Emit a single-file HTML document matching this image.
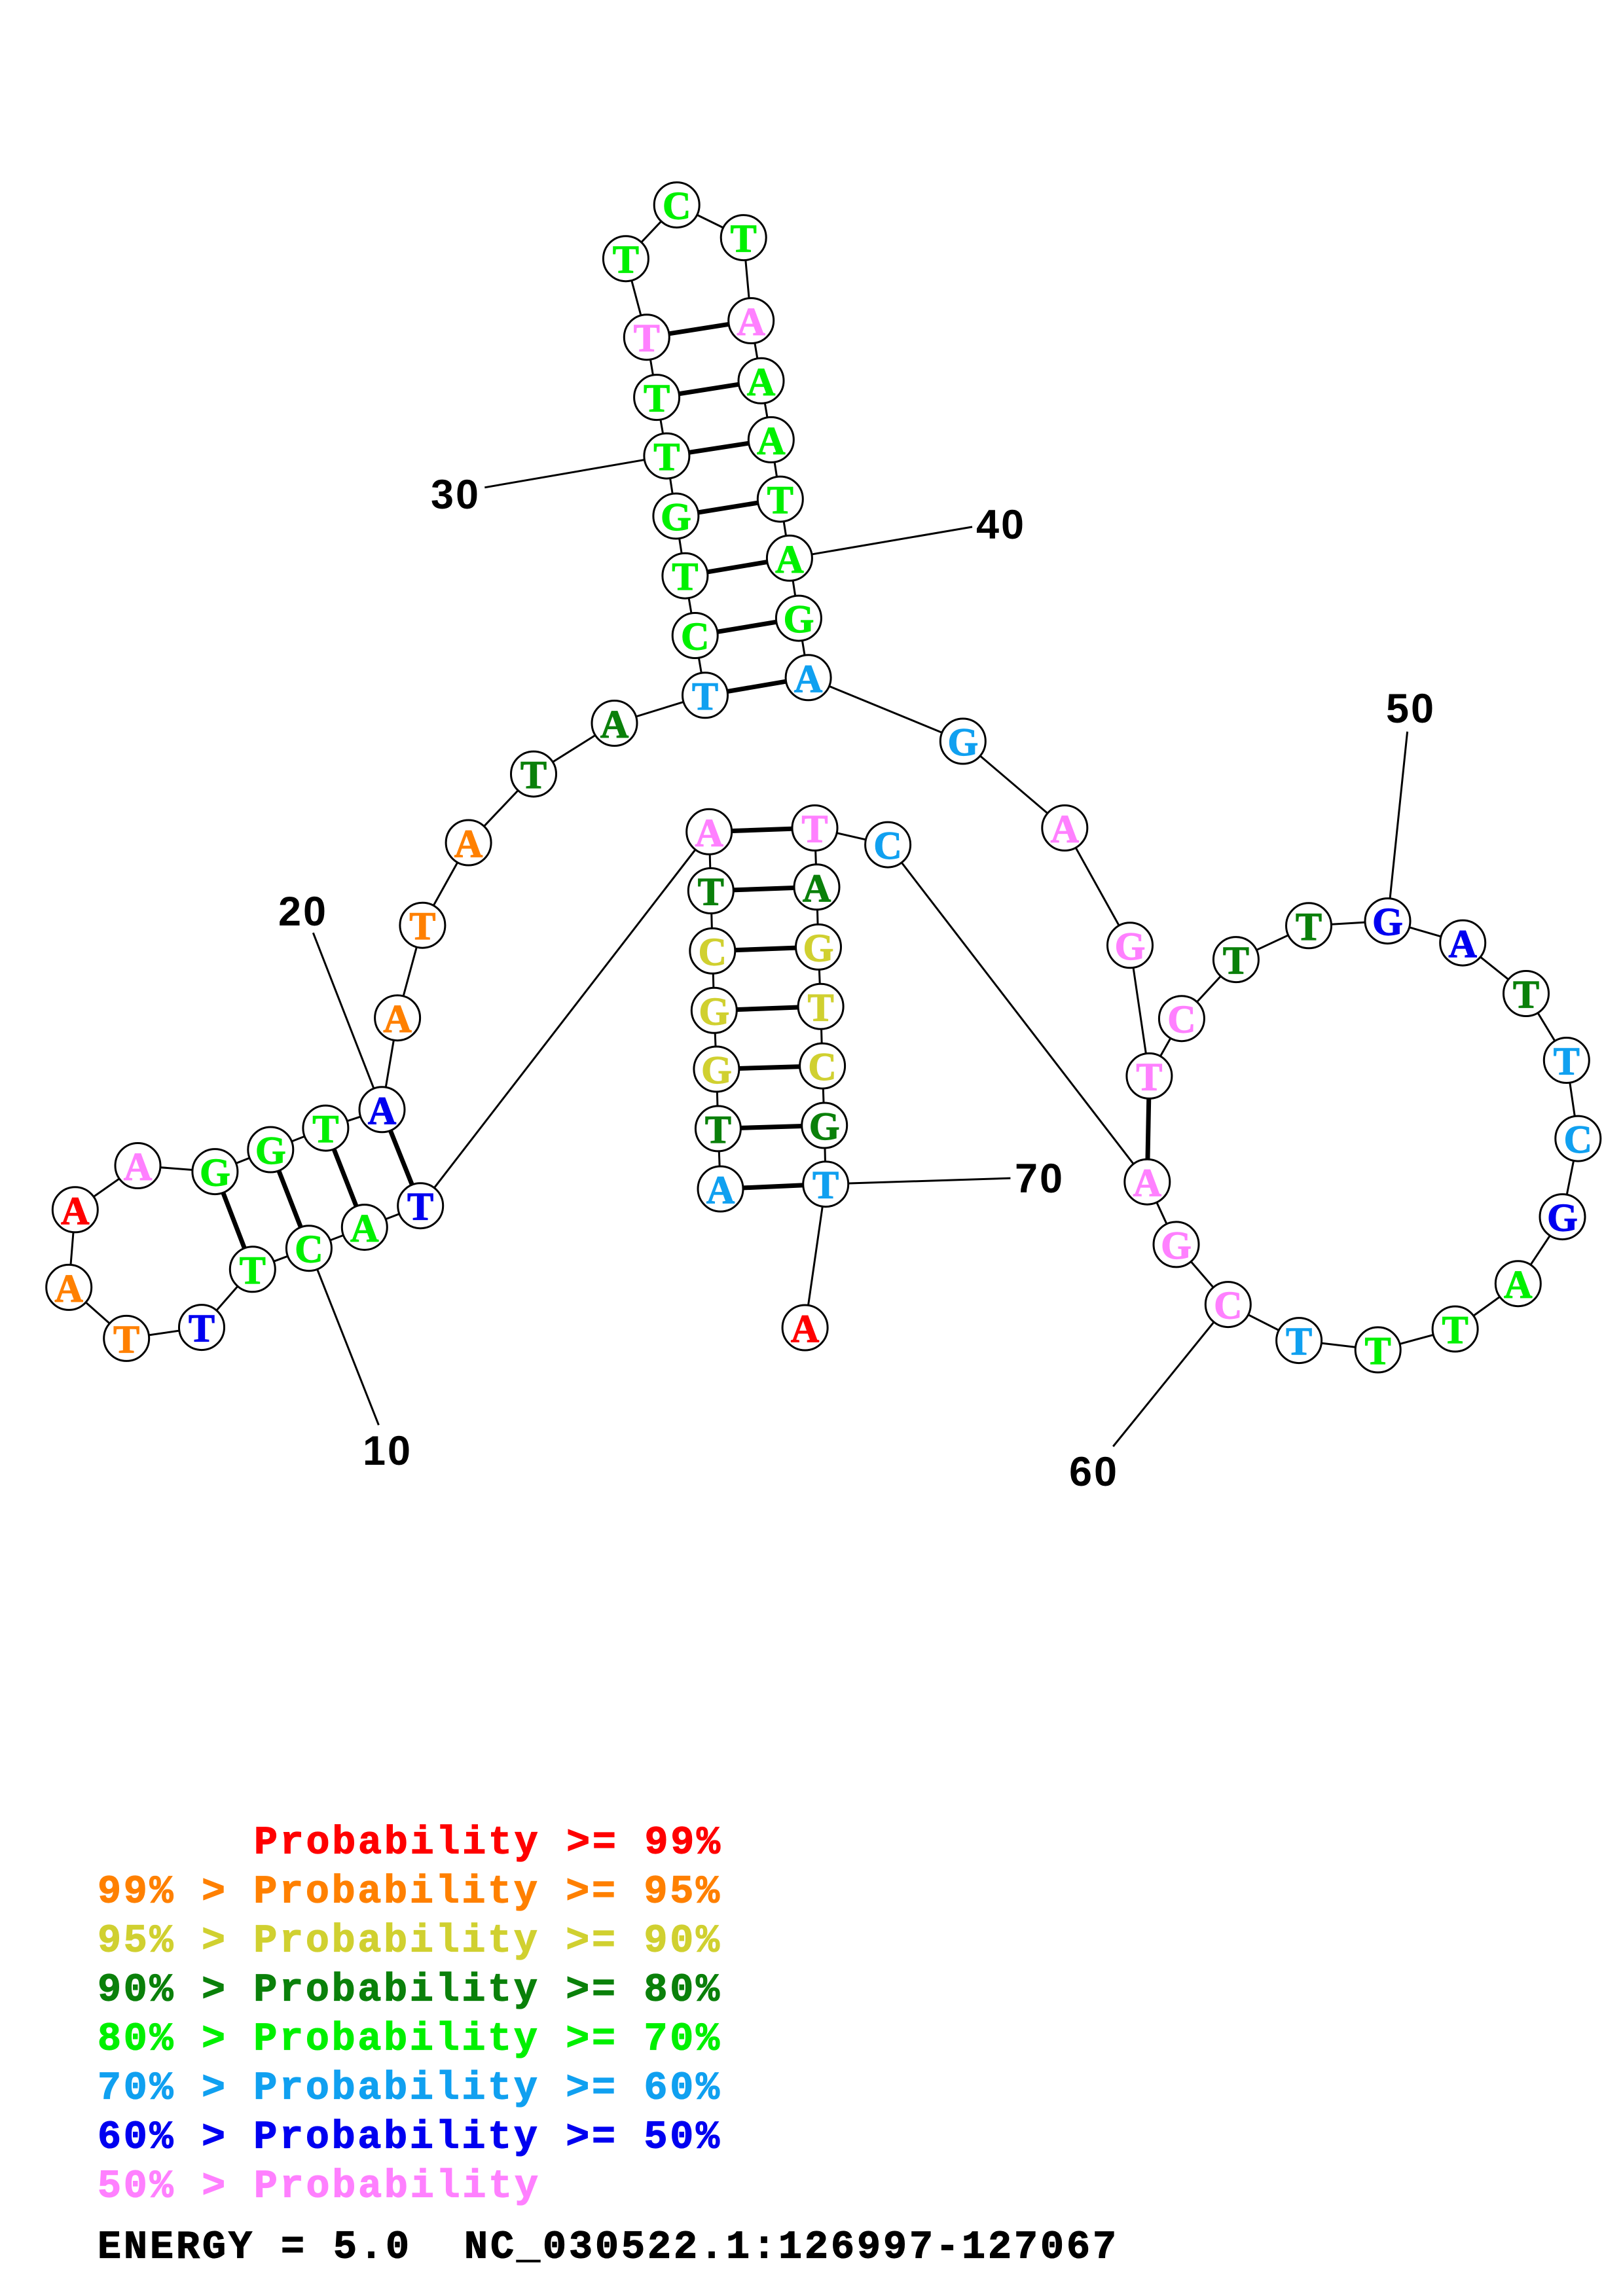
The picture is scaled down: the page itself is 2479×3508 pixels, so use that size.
<!DOCTYPE html>
<html>
<head>
<meta charset="utf-8">
<style>
html,body{margin:0;padding:0;background:#fff;}
svg{display:block;}
.n{font-family:"Liberation Serif",serif;font-weight:bold;font-size:60px;text-anchor:middle;stroke-width:1.2px;}
.lbl{font-family:"Liberation Sans",sans-serif;font-weight:bold;font-size:63px;text-anchor:middle;fill:#000;letter-spacing:3px;}
.lg{font-family:"Liberation Mono",monospace;font-weight:bold;font-size:60px;white-space:pre;stroke-width:1.2px;}
.p{fill:#ff80ff;stroke:#ff80ff}.lb{fill:#10a0f0;stroke:#10a0f0}.dg{fill:#0a800a;stroke:#0a800a}.g{fill:#00f000;stroke:#00f000}.y{fill:#d0d030;stroke:#d0d030}.o{fill:#ff8000;stroke:#ff8000}.r{fill:#ff0000;stroke:#ff0000}.b{fill:#0000f0;stroke:#0000f0}.k{fill:#000;stroke:#000}
</style>
</head>
<body>
<svg width="2479" height="3508" viewBox="0 0 2479 3508" xmlns="http://www.w3.org/2000/svg">
<rect width="2479" height="3508" fill="#fff"/>
<!-- backbone -->
<polyline fill="none" stroke="#000" stroke-width="3" stroke-linejoin="round" points="1100.5,1816.5 1096.9,1724.4 1094.4,1633.5 1090.8,1543.8 1088.3,1452.9 1085.8,1361 1083.2,1270.8 642.2,1842.2 556.8,1875.1 471.9,1907.2 385.8,1939.3 308,2028.1 193.2,2044.9 105.2,1966.9 114.8,1848.3 210.5,1781 328.4,1790.1 413.3,1756.5 497.4,1723.6 583.5,1695.3 607.1,1555.2 645.4,1413.7 715.6,1287.5 815,1182.6 938.5,1105 1077,1062.3 1061.7,971 1046.4,879.7 1032.4,788.5 1018.4,696.6 1003.1,607.1 987.8,515.2 955.9,395.2 1033.7,313.1 1135.7,363.1 1147.2,490 1162.5,581.8 1177.8,671.9 1191.8,762.6 1205.9,852.8 1219.9,944.6 1234.6,1035.3 1470.8,1132.5 1626.3,1265 1726,1444.3 1755.4,1643.9 1804.9,1556.2 1887.9,1466.1 1999,1414.3 2119.5,1407.1 2234.2,1440.6 2331,1518 2392.8,1620 2410.3,1739.6 2386.5,1859.1 2318.8,1961.2 2222.6,2030.5 2104.7,2062.4 1984.1,2048.1 1875.8,1993.1 1796.5,1901.4 1752.3,1805.7 1356.1,1290.6 1244.5,1265 1247.5,1355.3 1250,1446.9 1253.6,1537.8 1256.1,1628.6 1259.2,1719.5 1261.2,1809.2 1229.6,2028.5"/>
<!-- base pair bonds -->
<g stroke="#000" stroke-width="7">
<line x1="1100.5" y1="1816.5" x2="1261.2" y2="1809.2"/>
<line x1="1096.9" y1="1724.4" x2="1259.2" y2="1719.5"/>
<line x1="1094.4" y1="1633.5" x2="1256.1" y2="1628.6"/>
<line x1="1090.8" y1="1543.8" x2="1253.6" y2="1537.8"/>
<line x1="1088.3" y1="1452.9" x2="1250" y2="1446.9"/>
<line x1="1085.8" y1="1361" x2="1247.5" y2="1355.3"/>
<line x1="1083.2" y1="1270.8" x2="1244.5" y2="1265"/>
<line x1="642.2" y1="1842.2" x2="583.5" y2="1695.3"/>
<line x1="556.8" y1="1875.1" x2="497.4" y2="1723.6"/>
<line x1="471.9" y1="1907.2" x2="413.3" y2="1756.5"/>
<line x1="385.8" y1="1939.3" x2="328.4" y2="1790.1"/>
<line x1="1077" y1="1062.3" x2="1234.6" y2="1035.3"/>
<line x1="1061.7" y1="971" x2="1219.9" y2="944.6"/>
<line x1="1046.4" y1="879.7" x2="1205.9" y2="852.8"/>
<line x1="1032.4" y1="788.5" x2="1191.8" y2="762.6"/>
<line x1="1018.4" y1="696.6" x2="1177.8" y2="671.9"/>
<line x1="1003.1" y1="607.1" x2="1162.5" y2="581.8"/>
<line x1="987.8" y1="515.2" x2="1147.2" y2="490"/>
<line x1="1755.4" y1="1643.9" x2="1752.3" y2="1805.7"/>
</g>
<!-- label ticks -->
<g stroke="#000" stroke-width="3">
<line x1="471.9" y1="1907.2" x2="578.4" y2="2177.3"/>
<line x1="583.5" y1="1695.3" x2="478.3" y2="1425.2"/>
<line x1="1018.4" y1="696.6" x2="740.3" y2="744.8"/>
<line x1="1205.9" y1="852.8" x2="1485" y2="805"/>
<line x1="2119.5" y1="1407.1" x2="2149.6" y2="1117.8"/>
<line x1="1875.8" y1="1993.1" x2="1700.2" y2="2210"/>
<line x1="1261.2" y1="1809.2" x2="1543.4" y2="1800.1"/>
</g>
<!-- nodes -->
<g fill="#fff" stroke="#000" stroke-width="3">
<circle cx="1100.5" cy="1816.5" r="34.5"/>
<circle cx="1096.9" cy="1724.4" r="34.5"/>
<circle cx="1094.4" cy="1633.5" r="34.5"/>
<circle cx="1090.8" cy="1543.8" r="34.5"/>
<circle cx="1088.3" cy="1452.9" r="34.5"/>
<circle cx="1085.8" cy="1361" r="34.5"/>
<circle cx="1083.2" cy="1270.8" r="34.5"/>
<circle cx="642.2" cy="1842.2" r="34.5"/>
<circle cx="556.8" cy="1875.1" r="34.5"/>
<circle cx="471.9" cy="1907.2" r="34.5"/>
<circle cx="385.8" cy="1939.3" r="34.5"/>
<circle cx="308" cy="2028.1" r="34.5"/>
<circle cx="193.2" cy="2044.9" r="34.5"/>
<circle cx="105.2" cy="1966.9" r="34.5"/>
<circle cx="114.8" cy="1848.3" r="34.5"/>
<circle cx="210.5" cy="1781" r="34.5"/>
<circle cx="328.4" cy="1790.1" r="34.5"/>
<circle cx="413.3" cy="1756.5" r="34.5"/>
<circle cx="497.4" cy="1723.6" r="34.5"/>
<circle cx="583.5" cy="1695.3" r="34.5"/>
<circle cx="607.1" cy="1555.2" r="34.5"/>
<circle cx="645.4" cy="1413.7" r="34.5"/>
<circle cx="715.6" cy="1287.5" r="34.5"/>
<circle cx="815" cy="1182.6" r="34.5"/>
<circle cx="938.5" cy="1105" r="34.5"/>
<circle cx="1077" cy="1062.3" r="34.5"/>
<circle cx="1061.7" cy="971" r="34.5"/>
<circle cx="1046.4" cy="879.7" r="34.5"/>
<circle cx="1032.4" cy="788.5" r="34.5"/>
<circle cx="1018.4" cy="696.6" r="34.5"/>
<circle cx="1003.1" cy="607.1" r="34.5"/>
<circle cx="987.8" cy="515.2" r="34.5"/>
<circle cx="955.9" cy="395.2" r="34.5"/>
<circle cx="1033.7" cy="313.1" r="34.5"/>
<circle cx="1135.7" cy="363.1" r="34.5"/>
<circle cx="1147.2" cy="490" r="34.5"/>
<circle cx="1162.5" cy="581.8" r="34.5"/>
<circle cx="1177.8" cy="671.9" r="34.5"/>
<circle cx="1191.8" cy="762.6" r="34.5"/>
<circle cx="1205.9" cy="852.8" r="34.5"/>
<circle cx="1219.9" cy="944.6" r="34.5"/>
<circle cx="1234.6" cy="1035.3" r="34.5"/>
<circle cx="1470.8" cy="1132.5" r="34.5"/>
<circle cx="1626.3" cy="1265" r="34.5"/>
<circle cx="1726" cy="1444.3" r="34.5"/>
<circle cx="1755.4" cy="1643.9" r="34.5"/>
<circle cx="1804.9" cy="1556.2" r="34.5"/>
<circle cx="1887.9" cy="1466.1" r="34.5"/>
<circle cx="1999" cy="1414.3" r="34.5"/>
<circle cx="2119.5" cy="1407.1" r="34.5"/>
<circle cx="2234.2" cy="1440.6" r="34.5"/>
<circle cx="2331" cy="1518" r="34.5"/>
<circle cx="2392.8" cy="1620" r="34.5"/>
<circle cx="2410.3" cy="1739.6" r="34.5"/>
<circle cx="2386.5" cy="1859.1" r="34.5"/>
<circle cx="2318.8" cy="1961.2" r="34.5"/>
<circle cx="2222.6" cy="2030.5" r="34.5"/>
<circle cx="2104.7" cy="2062.4" r="34.5"/>
<circle cx="1984.1" cy="2048.1" r="34.5"/>
<circle cx="1875.8" cy="1993.1" r="34.5"/>
<circle cx="1796.5" cy="1901.4" r="34.5"/>
<circle cx="1752.3" cy="1805.7" r="34.5"/>
<circle cx="1356.1" cy="1290.6" r="34.5"/>
<circle cx="1244.5" cy="1265" r="34.5"/>
<circle cx="1247.5" cy="1355.3" r="34.5"/>
<circle cx="1250" cy="1446.9" r="34.5"/>
<circle cx="1253.6" cy="1537.8" r="34.5"/>
<circle cx="1256.1" cy="1628.6" r="34.5"/>
<circle cx="1259.2" cy="1719.5" r="34.5"/>
<circle cx="1261.2" cy="1809.2" r="34.5"/>
<circle cx="1229.6" cy="2028.5" r="34.5"/>
</g>
<!-- letters -->
<g class="n">
<text x="1100.5" y="1838" class="lb">A</text>
<text x="1096.9" y="1746" class="dg">T</text>
<text x="1094.4" y="1655" class="y">G</text>
<text x="1090.8" y="1565.3" class="y">G</text>
<text x="1088.3" y="1474.4" class="y">C</text>
<text x="1085.8" y="1382.5" class="dg">T</text>
<text x="1083.2" y="1292.3" class="p">A</text>
<text x="642.2" y="1863.7" class="b">T</text>
<text x="556.8" y="1896.6" class="g">A</text>
<text x="471.9" y="1928.7" class="g">C</text>
<text x="385.8" y="1960.8" class="g">T</text>
<text x="308" y="2049.6" class="b">T</text>
<text x="193.2" y="2066.4" class="o">T</text>
<text x="105.2" y="1988.4" class="o">A</text>
<text x="114.8" y="1869.8" class="r">A</text>
<text x="210.5" y="1802.5" class="p">A</text>
<text x="328.4" y="1811.6" class="g">G</text>
<text x="413.3" y="1778" class="g">G</text>
<text x="497.4" y="1745.1" class="g">T</text>
<text x="583.5" y="1716.8" class="b">A</text>
<text x="607.1" y="1576.7" class="o">A</text>
<text x="645.4" y="1435.2" class="o">T</text>
<text x="715.6" y="1309" class="o">A</text>
<text x="815" y="1204.1" class="dg">T</text>
<text x="938.5" y="1126.5" class="dg">A</text>
<text x="1077" y="1083.8" class="lb">T</text>
<text x="1061.7" y="992.5" class="g">C</text>
<text x="1046.4" y="901.2" class="g">T</text>
<text x="1032.4" y="810" class="g">G</text>
<text x="1018.4" y="718.1" class="g">T</text>
<text x="1003.1" y="628.6" class="g">T</text>
<text x="987.8" y="536.7" class="p">T</text>
<text x="955.9" y="416.7" class="g">T</text>
<text x="1033.7" y="334.6" class="g">C</text>
<text x="1135.7" y="384.6" class="g">T</text>
<text x="1147.2" y="511.5" class="p">A</text>
<text x="1162.5" y="603.3" class="g">A</text>
<text x="1177.8" y="693.4" class="g">A</text>
<text x="1191.8" y="784.1" class="g">T</text>
<text x="1205.9" y="874.3" class="g">A</text>
<text x="1219.9" y="966.1" class="g">G</text>
<text x="1234.6" y="1056.8" class="lb">A</text>
<text x="1470.8" y="1154" class="lb">G</text>
<text x="1626.3" y="1286.5" class="p">A</text>
<text x="1726" y="1465.8" class="p">G</text>
<text x="1755.4" y="1665.4" class="p">T</text>
<text x="1804.9" y="1577.7" class="p">C</text>
<text x="1887.9" y="1487.6" class="dg">T</text>
<text x="1999" y="1435.8" class="dg">T</text>
<text x="2119.5" y="1428.6" class="b">G</text>
<text x="2234.2" y="1462.1" class="b">A</text>
<text x="2331" y="1539.5" class="dg">T</text>
<text x="2392.8" y="1641.5" class="lb">T</text>
<text x="2410.3" y="1761.1" class="lb">C</text>
<text x="2386.5" y="1880.6" class="b">G</text>
<text x="2318.8" y="1982.7" class="g">A</text>
<text x="2222.6" y="2052" class="g">T</text>
<text x="2104.7" y="2083.9" class="g">T</text>
<text x="1984.1" y="2069.6" class="lb">T</text>
<text x="1875.8" y="2014.6" class="p">C</text>
<text x="1796.5" y="1922.9" class="p">G</text>
<text x="1752.3" y="1827.2" class="p">A</text>
<text x="1356.1" y="1312.1" class="lb">C</text>
<text x="1244.5" y="1286.5" class="p">T</text>
<text x="1247.5" y="1376.8" class="dg">A</text>
<text x="1250" y="1468.4" class="y">G</text>
<text x="1253.6" y="1559.3" class="y">T</text>
<text x="1256.1" y="1650.1" class="y">C</text>
<text x="1259.2" y="1741" class="dg">G</text>
<text x="1261.2" y="1830.7" class="lb">T</text>
<text x="1229.6" y="2050" class="r">A</text>
</g>
<!-- position labels -->
<text class="lbl" x="592" y="2238">10</text>
<text class="lbl" x="463" y="1414">20</text>
<text class="lbl" x="696" y="777">30</text>
<text class="lbl" x="1529" y="823">40</text>
<text class="lbl" x="2155" y="1104">50</text>
<text class="lbl" x="1671" y="2270">60</text>
<text class="lbl" x="1588" y="1822">70</text>
<!-- legend -->
<text class="lg r" x="388" y="2831.5" textLength="712" lengthAdjust="spacing">Probability &gt;= 99%</text>
<text class="lg o" x="149" y="2906.5" textLength="950" lengthAdjust="spacing">99% &gt; Probability &gt;= 95%</text>
<text class="lg y" x="149" y="2981.5" textLength="950" lengthAdjust="spacing">95% &gt; Probability &gt;= 90%</text>
<text class="lg dg" x="149" y="3056.5" textLength="950" lengthAdjust="spacing">90% &gt; Probability &gt;= 80%</text>
<text class="lg g" x="149" y="3131.5" textLength="950" lengthAdjust="spacing">80% &gt; Probability &gt;= 70%</text>
<text class="lg lb" x="149" y="3206.5" textLength="950" lengthAdjust="spacing">70% &gt; Probability &gt;= 60%</text>
<text class="lg b" x="149" y="3281.5" textLength="950" lengthAdjust="spacing">60% &gt; Probability &gt;= 50%</text>
<text class="lg p" x="149" y="3356.5" textLength="673" lengthAdjust="spacing">50% &gt; Probability</text>
<text class="lg k" x="149" y="3449.5" textLength="1556" lengthAdjust="spacing">ENERGY = 5.0  NC_030522.1:126997-127067</text>
</svg>
</body>
</html>
